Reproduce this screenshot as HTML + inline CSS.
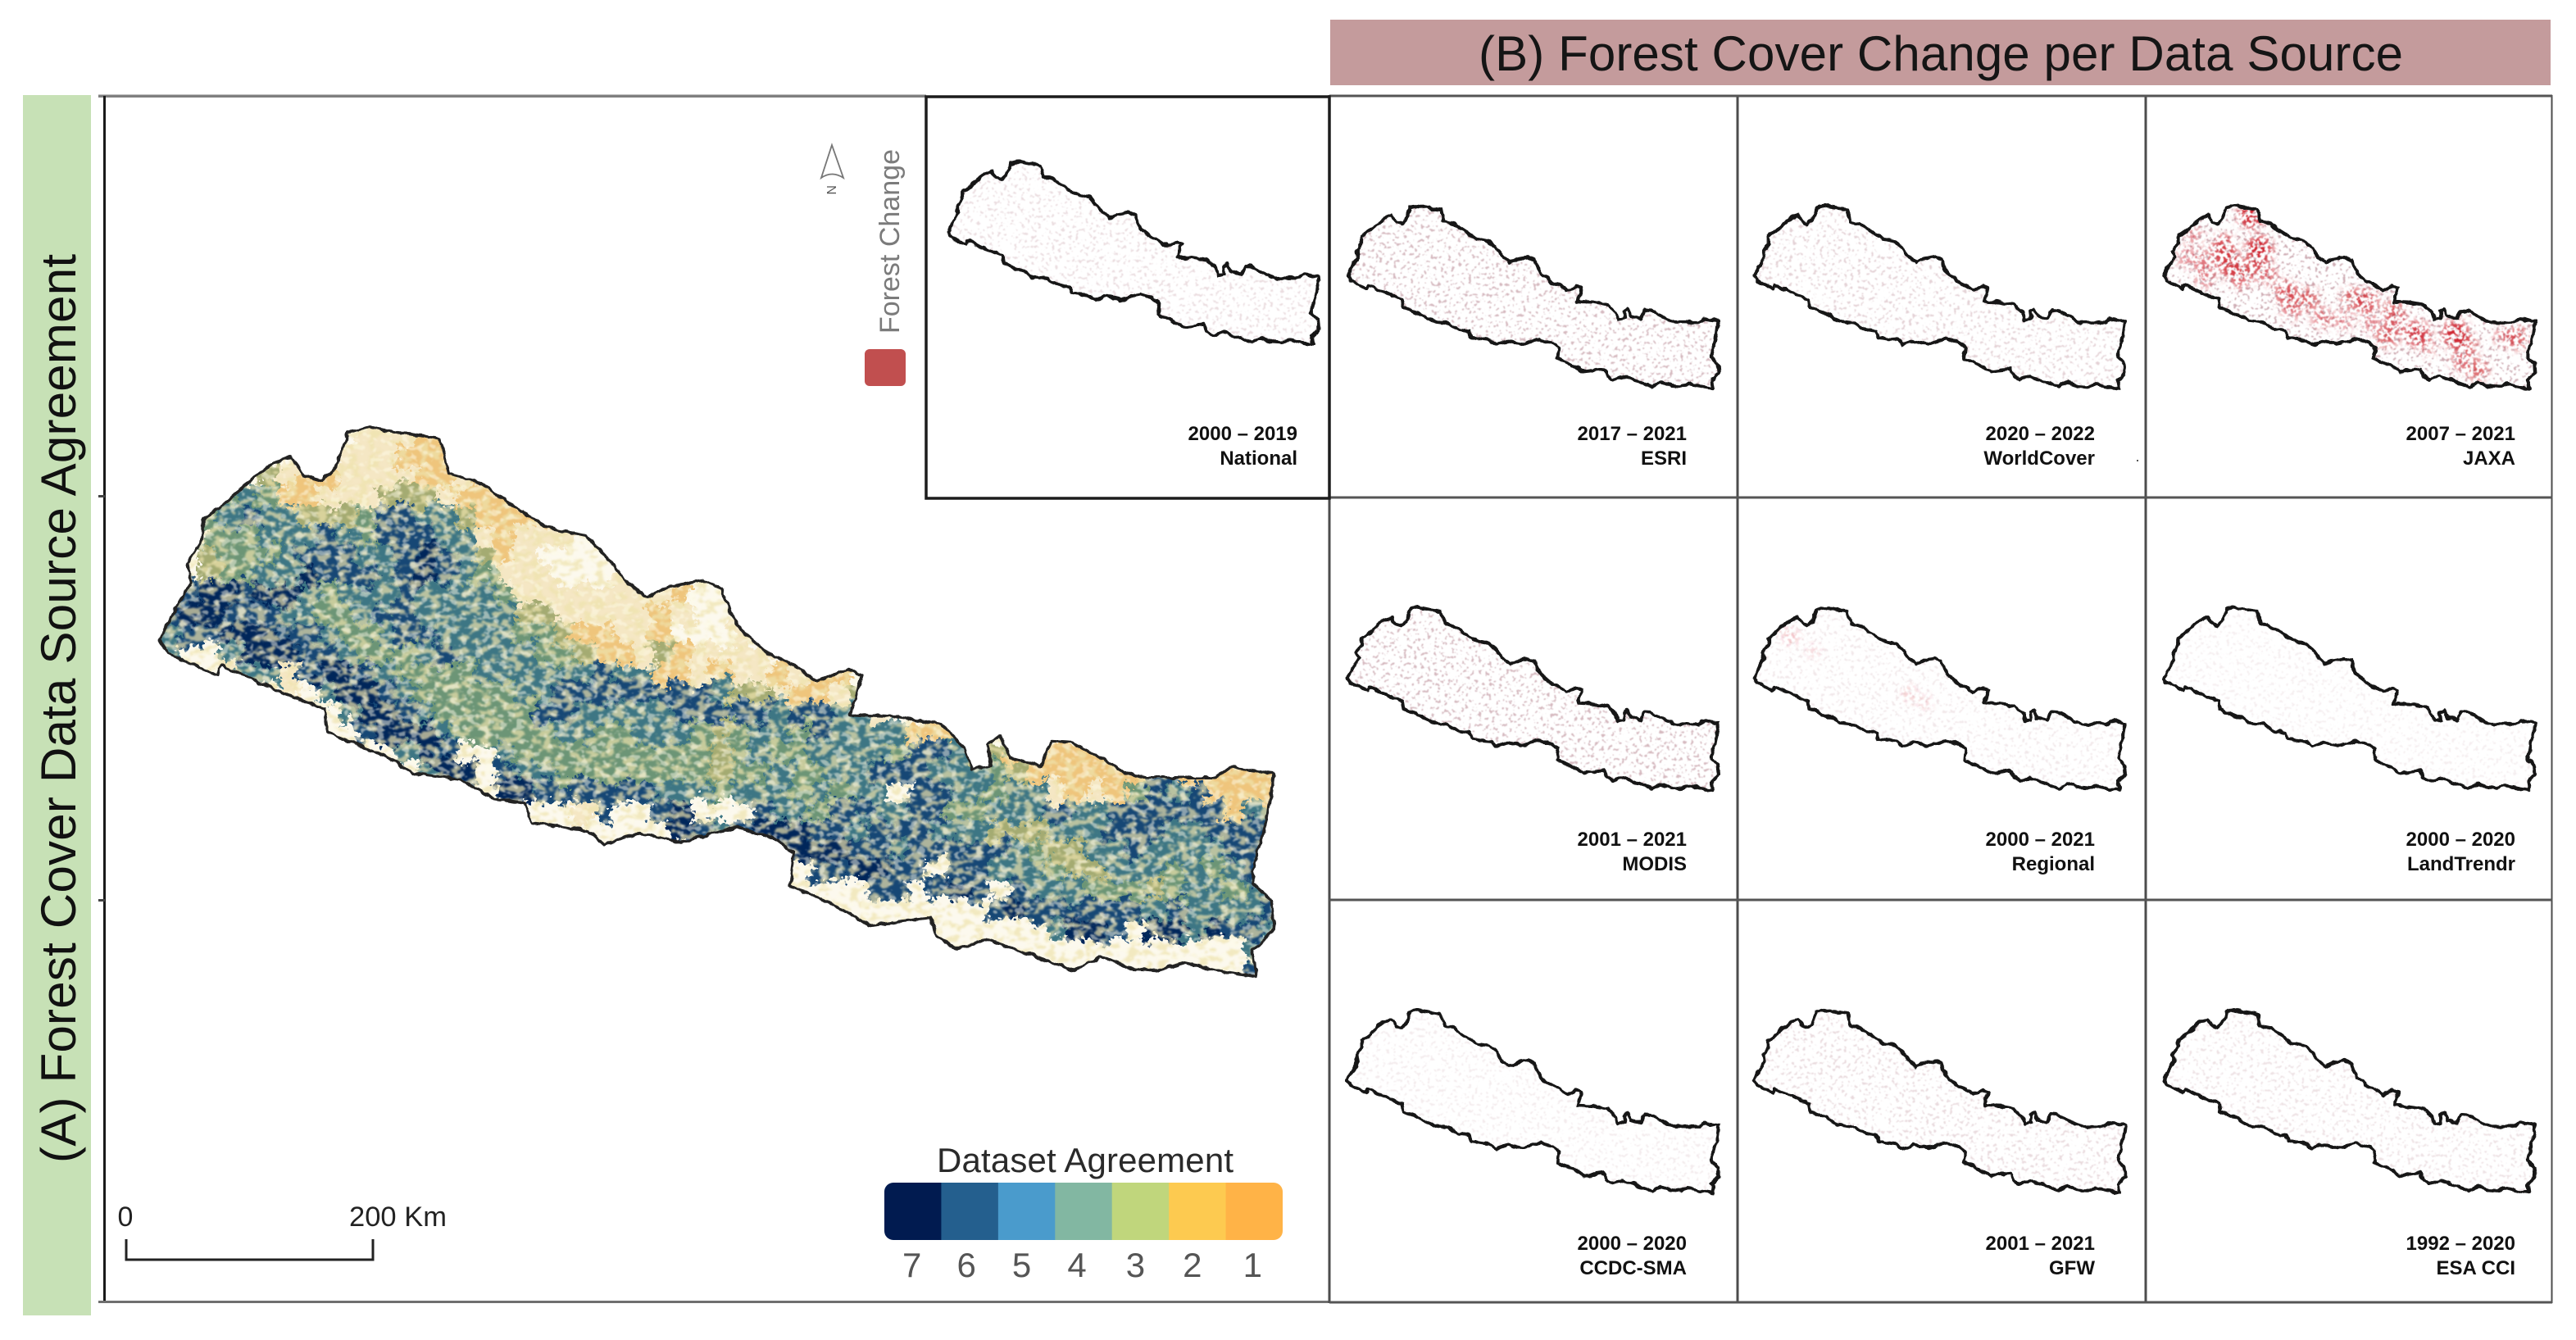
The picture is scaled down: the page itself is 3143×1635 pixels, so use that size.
<!DOCTYPE html>
<html lang="en">
<head>
<meta charset="utf-8">
<title>Forest Cover Data Source Agreement and Change - Nepal</title>
<style>
html,body{margin:0;padding:0;background:#fff;}
#stage{display:block;width:3143px;height:1635px;font-family:"Liberation Sans",sans-serif;}
</style>
</head>
<body>
<svg id="stage" xmlns="http://www.w3.org/2000/svg" width="3143" height="1635" viewBox="0 0 3143 1635">
<defs>
<filter id="rough" x="-5%" y="-5%" width="110%" height="110%" filterUnits="objectBoundingBox">
<feTurbulence type="fractalNoise" baseFrequency="0.05" numOctaves="2" seed="7" result="n"/>
<feDisplacementMap in="SourceGraphic" in2="n" scale="30" xChannelSelector="R" yChannelSelector="G" result="d"/>
<feTurbulence type="fractalNoise" baseFrequency="0.16" numOctaves="2" seed="21" result="n2"/>
<feDisplacementMap in="d" in2="n2" scale="22" xChannelSelector="G" yChannelSelector="R"/>
</filter>
<filter id="mottle" x="0" y="0" width="100%" height="100%">
<feTurbulence type="fractalNoise" baseFrequency="0.1 0.14" numOctaves="2" seed="3"/>
<feColorMatrix type="matrix" values="0 0 0 0 0.99  0 0 0 0 0.96  0 0 0 0 0.8  10 0 0 0 -5.4"/>
<feGaussianBlur stdDeviation="0.8"/>
</filter>
<filter id="mottle-tan" x="0" y="0" width="100%" height="100%">
<feTurbulence type="fractalNoise" baseFrequency="0.08 0.12" numOctaves="2" seed="14"/>
<feColorMatrix type="matrix" values="0 0 0 0 0.86  0 0 0 0 0.77  0 0 0 0 0.42  10 0 0 0 -5"/>
<feGaussianBlur stdDeviation="1"/>
</filter>
<filter id="wiggle" x="-3%" y="-3%" width="106%" height="106%">
<feTurbulence type="fractalNoise" baseFrequency="0.09" numOctaves="2" seed="11" result="n"/>
<feDisplacementMap in="SourceGraphic" in2="n" scale="6" xChannelSelector="R" yChannelSelector="G"/>
</filter>
<filter id="speckle" x="0" y="0" width="100%" height="100%">
<feTurbulence type="fractalNoise" baseFrequency="0.24" numOctaves="2" seed="5"/>
<feColorMatrix type="matrix" values="0 0 0 0 0.62  0 0 0 0 0.42  0 0 0 0 0.46  14 0 0 0 -8.5"/>
<feGaussianBlur stdDeviation="0.5"/>
</filter>
<filter id="hotspot" x="-10%" y="-10%" width="120%" height="120%">
<feGaussianBlur in="SourceGraphic" stdDeviation="5" result="b"/>
<feTurbulence type="fractalNoise" baseFrequency="0.22" numOctaves="2" seed="9"/>
<feColorMatrix type="matrix" values="0 0 0 0 0  0 0 0 0 0  0 0 0 0 0  10 0 0 0 -4.9" result="m"/>
<feComposite in="b" in2="m" operator="in"/>
<feGaussianBlur stdDeviation="0.5"/>
</filter>
</defs>

<g id="frame-layer">
<rect x="28" y="116" width="83" height="1489" fill="#c7e1b6"/>
<text transform="translate(92,864.5) rotate(-90)" text-anchor="middle" font-size="60" fill="#111" textLength="1109" lengthAdjust="spacing">(A) Forest Cover Data Source Agreement</text>
<rect x="1623" y="24" width="1489" height="80" fill="#c49b9c"/>
<text x="2368" y="86" text-anchor="middle" font-size="60" fill="#151515" textLength="1128" lengthAdjust="spacing">(B) Forest Cover Change per Data Source</text>
<rect x="120" y="115.500" width="1010" height="3.500" fill="#7f7f7f"/>
<rect x="126" y="117" width="3" height="1472" fill="#1a1a1a"/>
<rect x="120" y="1587" width="1502" height="3" fill="#6f6f6f"/>
<rect x="120" y="604" width="8" height="3" fill="#444"/>
<rect x="120" y="1097" width="8" height="3" fill="#444"/>
</g>

<g id="agreement-map"></g>
<g id="panel-grid"></g>
<g id="change-panels"></g>

<g>
<path d="M1015 177 L1029 217 Q1015 208 1002 217 Z" fill="none" stroke="#777" stroke-width="1.800"/>
<text transform="translate(1009,226) rotate(90)" font-size="16" fill="#555">N</text>
</g>
<g>
<text transform="translate(1097,407) rotate(-90)" font-size="34" fill="#7b7b7b" textLength="225" lengthAdjust="spacing">Forest Change</text>
<rect x="1055" y="426" width="50" height="45" rx="6" fill="#c14f4f"/>
</g>

<g>
<path d="M154 1512 V1537 H455 V1512" fill="none" stroke="#222" stroke-width="3"/>
<text x="153" y="1496" text-anchor="middle" font-size="34" fill="#222">0</text>
<text x="426" y="1496" font-size="34.500" fill="#222" textLength="119" lengthAdjust="spacing">200 Km</text>
</g>

<g id="agreement-legend">
<text x="1143" y="1430" font-size="42" fill="#2a2a2a" textLength="362" lengthAdjust="spacing">Dataset Agreement</text>
</g>
<rect x="2607" y="561" width="2" height="2" fill="#555"/>

<script>
// ---- Data ----
// Boundary trace of the country, in trace units
const boundaryX = [48,65,90,85,105,105,135,165,195,222,240,262,280,297,325,350,418,430,470,510,560,610,640,665,690,720,765,790,800,815,850,885,915,955,975,960,1020,1080,1110,1120,1145,1142,1157,1170,1210,1225,1250,1290,1320,1345,1440,1460,1518,1510,1490,1490,1515,1518,1490,1495,1460,1400,1365,1330,1290,1255,1205,1140,1100,1075,1065,985,930,880,885,860,810,735,680,635,615,540,530,490,445,385,345,270,265,210,130,125,100,60];
const boundaryY = [625,560,480,430,370,320,280,225,180,160,210,222,190,100,85,95,115,205,225,280,340,360,420,480,518,490,475,495,550,600,660,690,730,700,715,815,820,840,900,955,945,890,870,925,945,882,885,925,960,975,975,948,965,1070,1210,1240,1290,1360,1415,1480,1470,1445,1465,1460,1430,1465,1430,1385,1410,1380,1330,1350,1290,1250,1165,1130,1100,1140,1115,1145,1110,1090,1040,1030,980,965,920,860,800,760,690,715,695,660];

// Dataset agreement class per coarse map cell (0 = no forest agreement)
const agreementRows = [
"000000000022211",
"000000000222111",
"00000321122221121",
"000454112223332111",
"00456553334665531111",
"004445556546665521222",
"00344456665567653120000",
"003445576665676542220002",
"06776775455565555422222222100",
"677666554456655555332222212000",
"566777665445665555443112210002",
"5005777665444565555443112312222",
"00025526776544445555556551121221211",
"0000002057765444445566666666533211231",
"0000000005776544444665555566666566552",
"00000000006777544444554455543455465555111",
"000000000000576005444444444434544555546653312111",
"000000000000057706554444444434454455666555431111116611111",
"000000000000000607766666655545554545506655455212146561111",
"000000000000000000000260067000655466556644555655666666155",
"000000000000000000000000007656777665666555333555666556666",
"000000000000000000000000000000077776656666654335565555666",
"000000000000000000000000000000000667766066555433555454566",
"000000000000000000000000000000000000660676065554443455456",
"000000000000000000000000000000000000000000676666665655556",
"000000000000000000000000000000000000000000000577607757665",
"00000000000000000000000000000000000000000000000000000005",
"00000000000000000000000000000000000000000000000000000006"
];
const mapClassColors = ["#fcf9ee","#efc57c","#f5e7c4","#a4ab72","#6c9576","#3c7684","#164775","#05255a"];

// Legend classes
const legendValues = ["7","6","5","4","3","2","1"];
const legendColors = ["#011b50","#245f8e","#4a9bcc","#82b7a2","#c0d67c","#fdca50","#ffb347"];
const legendLabelNudge = [-1,-4,-6,-8,-6,-6,-2];

// Change panels
const panelNames = ["National","ESRI","WorldCover","JAXA","MODIS","Regional","LandTrendr","CCDC-SMA","GFW","ESA CCI"];
const panelPeriods = ["2000 – 2019","2017 – 2021","2020 – 2022","2007 – 2021","2001 – 2021","2000 – 2021","2000 – 2020","2000 – 2020","2001 – 2021","1992 – 2020"];
const changeSpeckle = [0.42,0.85,0.55,1,0.85,0.28,0.2,0.24,0.45,0.36];
const jaxaHotspotU = [.235,.257,.16,.169,.187,.246,.106,.08,.11,.059,.206,.279,.33,.345,.389,.426,.507,.547,.558,.62,.624,.683,.602,.786,.815,.844,.8,.954,.918,.712,.485];
const jaxaHotspotV = [.05,.238,.223,.298,.342,.335,.298,.164,.387,.283,.4,.372,.476,.565,.506,.61,.506,.52,.64,.573,.64,.7,.714,.7,.759,.893,.848,.722,.714,.774,.625];
const jaxaHotspotLevel = [1,1,.8,.8,.8,.7,.6,.5,.6,.5,.6,.6,.8,.6,.7,.6,.7,.8,.5,.7,.6,.9,.7,1,.7,.7,.6,.7,.6,.4,.5];
const regionalHotspotU = [.1,.16,.42,.46,.06];
const regionalHotspotV = [.16,.24,.47,.52,.1];
const regionalHotspotLevel = [.3,.2,.25,.2,.25];
const labelBaselines = [537,1032,1525];

// ---- Axis-like functions ----
const gridCols = [1622,2120,2618,3114];
const gridRows = [117,607,1098,1589];
const traceBox = {minX:48,maxX:1518,minY:85,maxY:1485};
const bigX = t => 150 + t / 1.081;
const bigY = t => 480 + t / 2.08;
const cellX = c => bigX(48 + 26 * c);
const cellY = r => bigY(85 + 50 * r);
const smallX = (t, left) => left + (t - traceBox.minX) / (traceBox.maxX - traceBox.minX) * 453;
const smallY = (t, top) => top + (t - traceBox.minY) / (traceBox.maxY - traceBox.minY) * 224;
const NS = "http://www.w3.org/2000/svg";
function make(tag, attrs, parent) {
  const el = document.createElementNS(NS, tag);
  for (const k in attrs) el.setAttribute(k, attrs[k]);
  parent.appendChild(el);
  return el;
}
function outlinePoints(fx, fy) {
  return boundaryX.map((t, i) => fx(t).toFixed(1) + "," + fy(boundaryY[i]).toFixed(1)).join(" ");
}

// ---- Agreement map ----
const defs = document.querySelector("defs");
const mapRoot = document.getElementById("agreement-map");
const bigOutline = outlinePoints(bigX, bigY);
const bigClip = make("clipPath", {id: "big-clip"}, defs);
make("polygon", {points: bigOutline}, bigClip);
const clipped = make("g", {"clip-path": "url(#big-clip)"}, mapRoot);


const cream = make("polygon", {points: bigOutline, fill: mapClassColors[0]}, clipped);


const cells = make("g", {filter: "url(#rough)"}, clipped);


agreementRows.forEach((row, r) => {
  [...row].forEach((ch, c) => {
    const cls = +ch;
    if (!cls) return;
    const cell = make("rect", {x: cellX(c).toFixed(1), y: cellY(r).toFixed(1), width: 25, height: 25, fill: mapClassColors[cls]}, cells);
    
    
  });
});
const tanTexture = make("rect", {x: 190, y: 515, width: 1370, height: 685, filter: "url(#mottle-tan)", opacity: 0.7}, clipped);


const mottle = make("rect", {x: 190, y: 515, width: 1370, height: 685, filter: "url(#mottle)", opacity: 0.5}, clipped);


const bigLine = make("polygon", {points: bigOutline, fill: "none", stroke: "#222", "stroke-width": 3.5, "stroke-linejoin": "round", filter: "url(#wiggle)"}, mapRoot);



// ---- Legend ----
const legendRoot = document.getElementById("agreement-legend");
const legendLeft = 1079, legendTop = 1443, legendWidth = 486, legendHeight = 70;
const legendClip = make("clipPath", {id: "legend-clip"}, defs);
make("rect", {x: legendLeft, y: legendTop, width: legendWidth, height: legendHeight, rx: 11}, legendClip);
const legendBar = make("g", {"clip-path": "url(#legend-clip)"}, legendRoot);


const legendStep = legendWidth / legendValues.length;
legendValues.forEach((v, i) => {
  const seg = make("rect", {x: legendLeft + i * legendStep, y: legendTop, width: legendStep + 0.5, height: legendHeight, fill: legendColors[i]}, legendBar);
  
  
  const label = make("text", {x: legendLeft + (i + 0.5) * legendStep + legendLabelNudge[i], y: 1558, "text-anchor": "middle", "font-size": 42, fill: "#555"}, legendRoot);
  
  
  label.textContent = v;
});

// ---- Panel grid lines ----
const gridRoot = document.getElementById("panel-grid");
gridCols.forEach((x, i) => {
  const line = make("rect", {x: x - 1.5, y: gridRows[0] - 1, width: i === 3 ? 2 : 3, height: gridRows[3] - gridRows[0] + 2, fill: "#4c4c4c"}, gridRoot);
  
  
});
gridRows.forEach((y) => {
  const line = make("rect", {x: gridCols[0], y: y - 1.5, width: gridCols[3] - gridCols[0], height: 3, fill: "#555"}, gridRoot);
  
  
});
const nationalBox = make("rect", {x: 1130, y: 118, width: 492, height: 490, fill: "#fff", stroke: "#1c1c1c", "stroke-width": 3.5}, gridRoot);



// ---- Change panels ----
const panelsRoot = document.getElementById("change-panels");
panelNames.forEach((name, i) => {
  const isNational = i === 0;
  const col = isNational ? 0 : (i - 1) % 3;
  const row = isNational ? 0 : Math.floor((i - 1) / 3);
  const left = isNational ? 1156 : gridCols[col] + (col === 1 ? 20 : 22);
  const top = isNational ? 197 : gridRows[row] + 134;
  const labelRight = isNational ? 1583 : gridCols[col + 1] - (col === 2 ? 45 : 62);
  const fx = t => smallX(t, left);
  const fy = t => smallY(t, top);
  const pts = outlinePoints(fx, fy);
  const key = name.toLowerCase().replace(/[^a-z]+/g, "-");
  const group = make("g", {}, panelsRoot);
  
  
  const clip = make("clipPath", {id: "clip-" + i}, defs);
  make("polygon", {points: pts}, clip);
  const inner = make("g", {"clip-path": "url(#clip-" + i + ")"}, group);
  
  
  const sp = make("rect", {x: left - 4, y: top - 4, width: 462, height: 234, filter: "url(#speckle)", opacity: changeSpeckle[i]}, inner);
  
  
  let us = null, vs = null, ls = null;
  if (name === "JAXA") { us = jaxaHotspotU; vs = jaxaHotspotV; ls = jaxaHotspotLevel; }
  if (name === "Regional") { us = regionalHotspotU; vs = regionalHotspotV; ls = regionalHotspotLevel; }
  if (us) {
    const hot = make("g", {filter: "url(#hotspot)"}, inner);
    
    
    us.forEach((u, k) => {
      const c = make("circle", {cx: (left + u * 453).toFixed(1), cy: (top + vs[k] * 224).toFixed(1), r: 7 + 10 * ls[k], fill: "#cf2630", opacity: ls[k]}, hot);
      
      
    });
  }
  const line = make("polygon", {points: pts, fill: "none", stroke: "#151515", "stroke-width": 4, "stroke-linejoin": "round", filter: "url(#wiggle)"}, group);
  
  
  const labelTop = isNational ? 537 : labelBaselines[row];
  const period = make("text", {x: labelRight, y: labelTop, "text-anchor": "end", "font-size": 24, "font-weight": "bold", fill: "#111"}, group);
  
  
  period.textContent = panelPeriods[i];
  const source = make("text", {x: labelRight, y: labelTop + 30, "text-anchor": "end", "font-size": 24, "font-weight": "bold", fill: "#111"}, group);
  
  
  source.textContent = name;
});
</script>
</svg>
</body>
</html>
